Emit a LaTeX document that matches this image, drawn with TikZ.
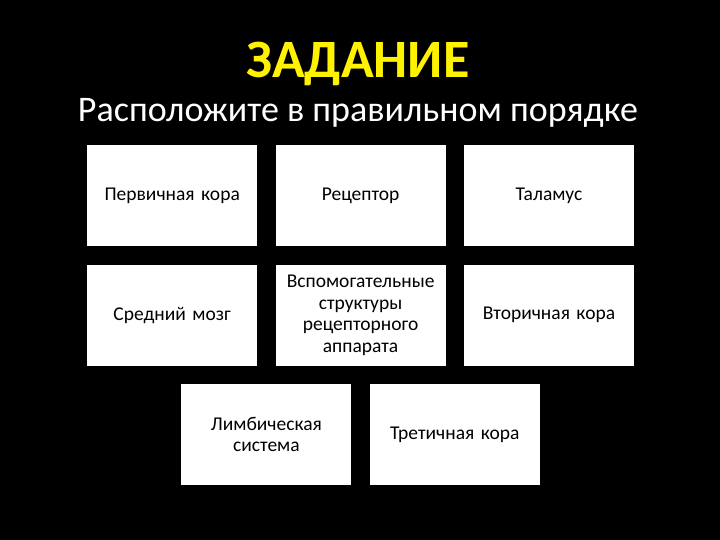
\documentclass[tikz,border=0pt]{standalone}
\usepackage{fontspec}
\setmainfont{Carlito}
\usepackage{tikz}
\usetikzlibrary{positioning}

\begin{document}
\begin{tikzpicture}[
			node distance=18pt and 18pt,
			every node/.style={font=\fontsize{19.5}{21.5}\selectfont},
			title/.style={font=\fontsize{54}{60}\selectfont\bfseries, text=yellow, anchor=base},
			subtitle/.style={font=\fontsize{36}{42}\selectfont, text=white, anchor=base},
			card/.style={rectangle, fill=white, text=black, minimum width=170pt, minimum height=101pt, text width=162pt, align=center, inner sep=0pt}
			]
			
			\fill [black] (0, 0) rectangle (720pt, 540pt);
			\useasboundingbox (0, 0) rectangle (720pt, 540pt);
			
			\node (zad) at (358pt, 462pt) [title] {ЗАДАНИЕ};
			\node (ras) at (358pt, 418pt) [subtitle] {Расположите в правильном порядке};
			
			\node (pk) at (87pt, 395pt) [card, anchor=north west] {Первичная кора};
			\node (rec) [right=of pk, card] {Рецептор};
			\node (tal) [right=of rec, card] {Таламус};
			
			\node (sm) [below=of pk, card] {Средний мозг};
			\node (vsp) [below=of rec, card] {Вспомогательные\\структуры\\рецепторного\\аппарата};
			\node (vk) [below=of tal, card] {Вторичная кора};
			
			\node (lim) [below left=18pt and 9pt of vsp.south, anchor=north east, card] {Лимбическая\\система};
			\node (tk) [right=of lim, card] {Третичная кора};
			\end{tikzpicture}
\end{document}
